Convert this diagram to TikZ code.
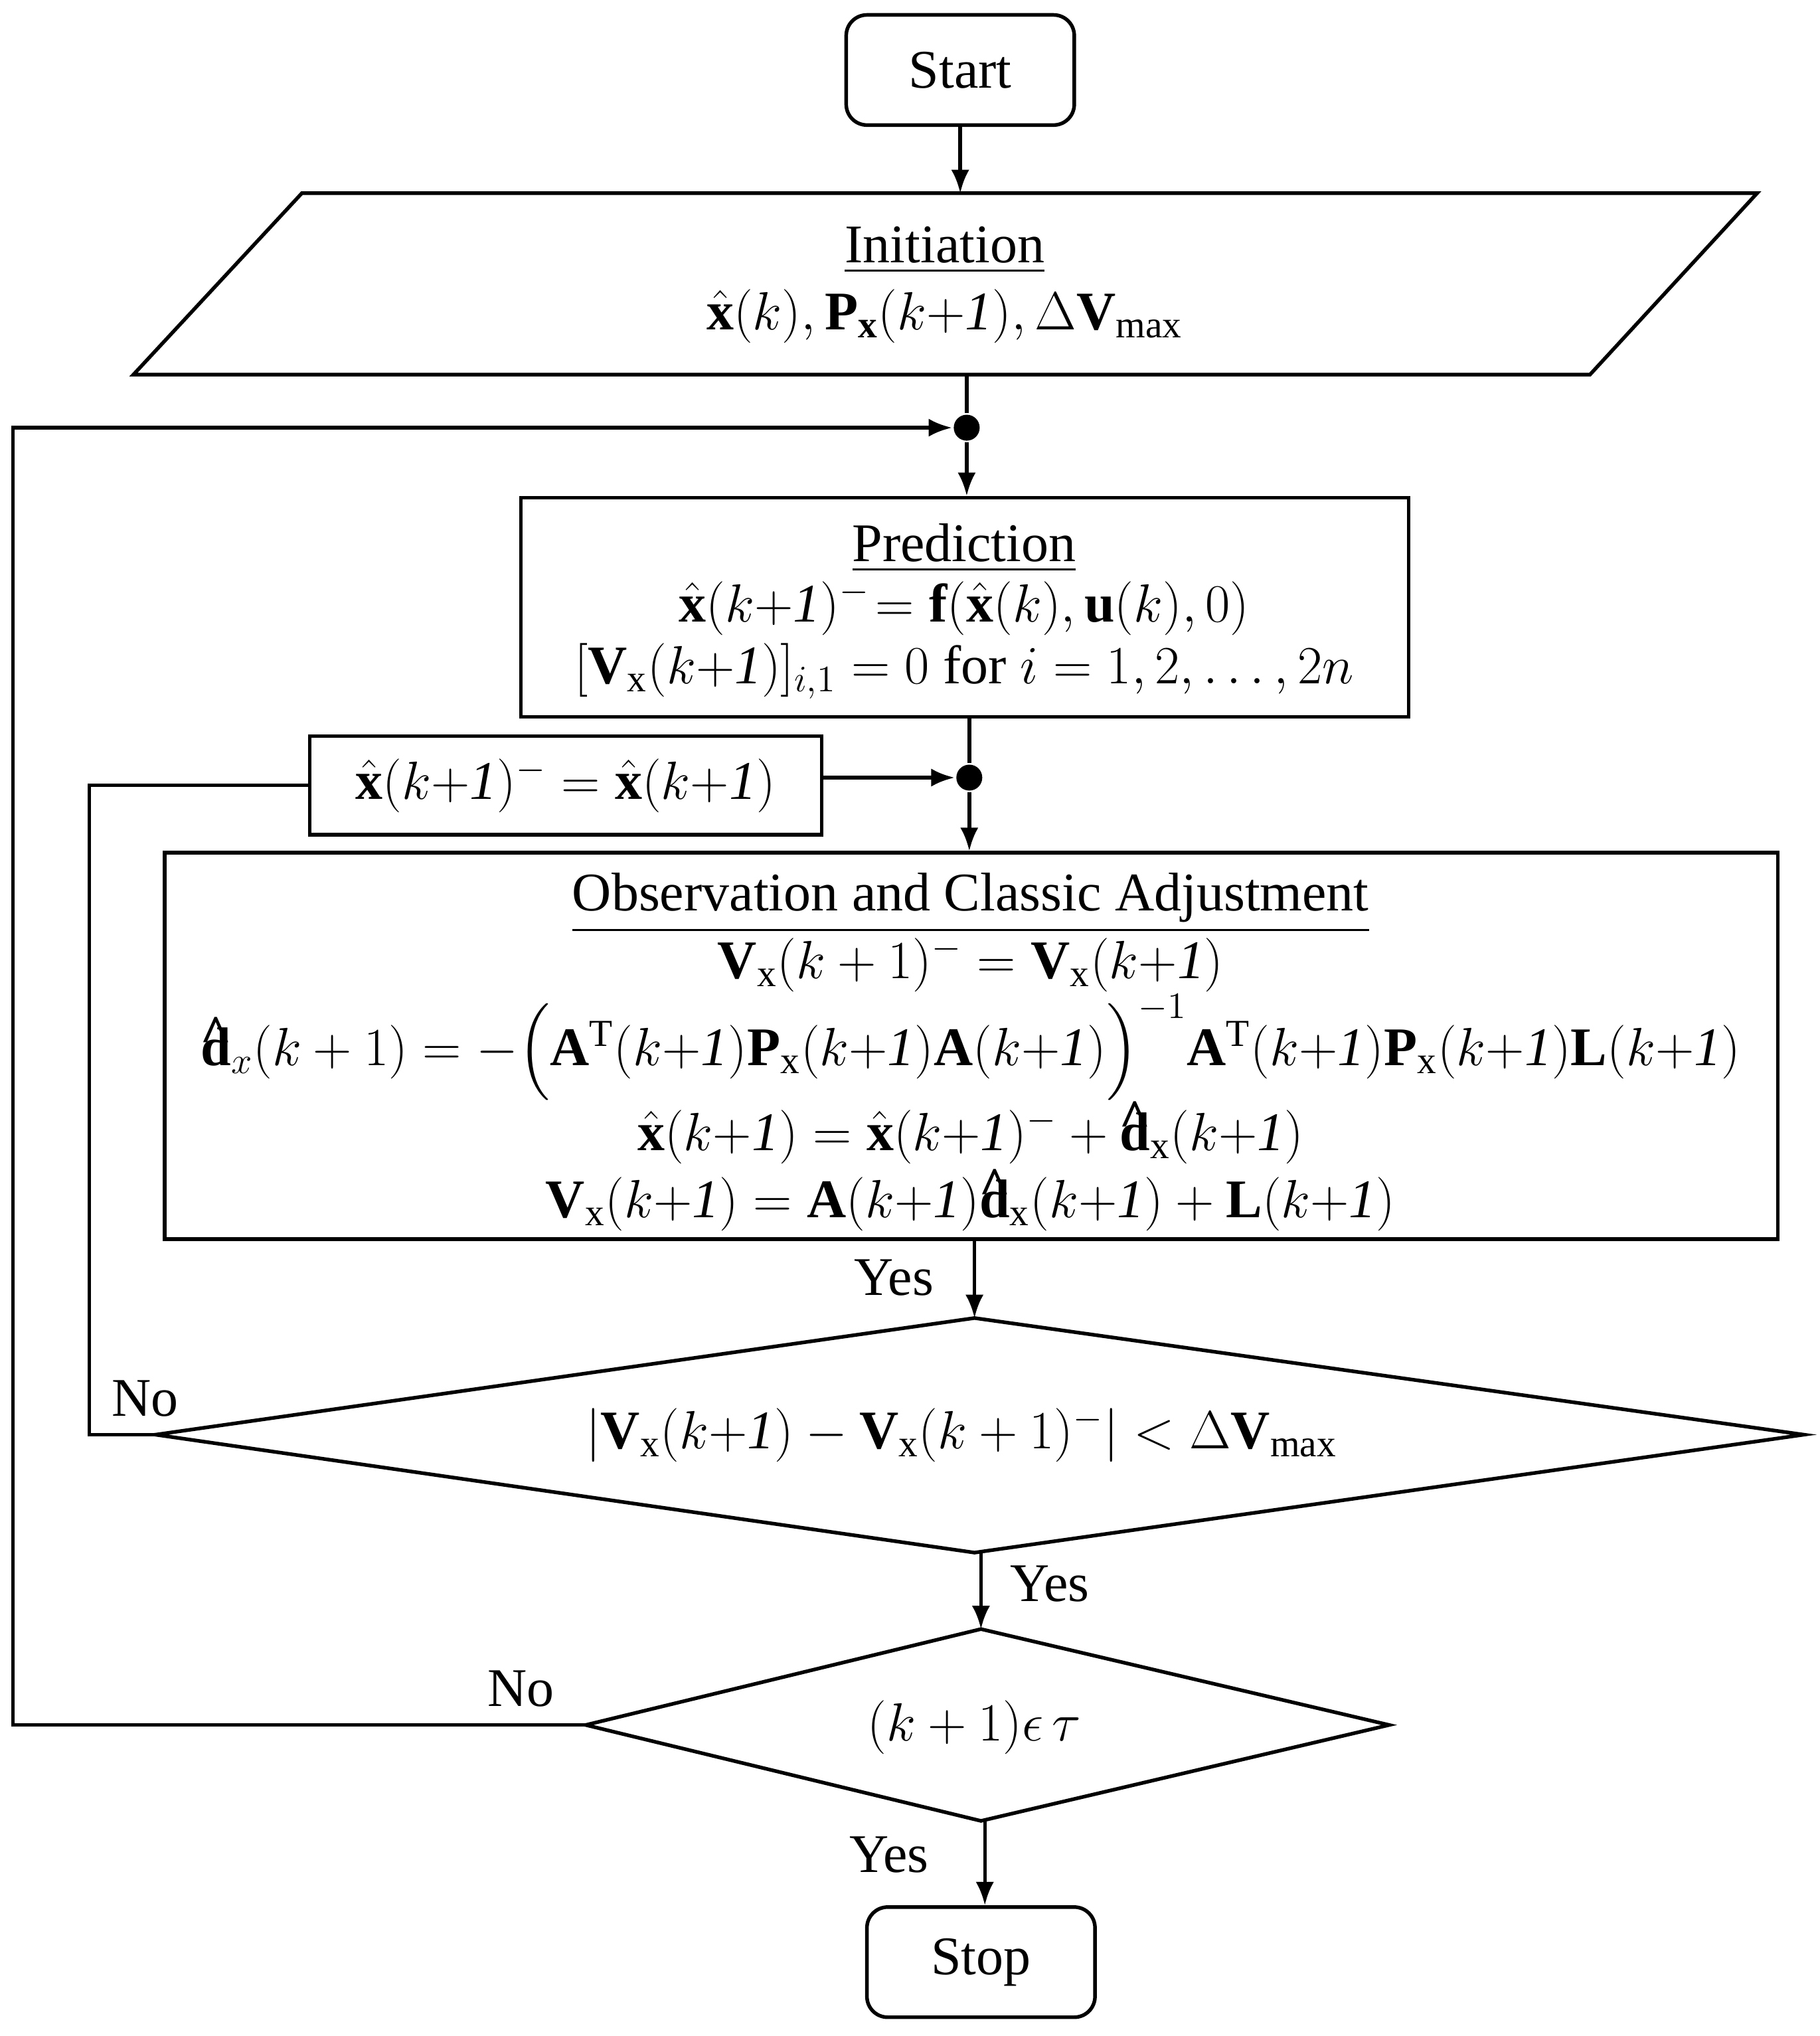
\documentclass[tikz,border=0pt]{standalone}
\usepackage{fontspec}
\setmainfont{Liberation Serif}
\usepackage{amsmath}
\usetikzlibrary{arrows.meta}
\newcommand{\kk}{(k{+}\mathit{1})}
\newcommand{\dhatb}{\mathbf{\hat{d}}}
\begin{document}
\begin{tikzpicture}[x=0.5pt,y=-0.5pt,line width=1.4pt,
  txt/.style={inner sep=0pt,font=\fontsize{21}{25}\selectfont},
  arr/.style={-{Latex[length=9pt,width=7pt]}},
  bx/.style={draw,line width=1.4pt},
  dot/.style={circle,fill,inner sep=0pt,minimum size=10pt}]
\useasboundingbox (0,0) rectangle (1404,1571);
% start
\node[bx,rounded corners=8pt,minimum width=88pt,minimum height=42.5pt,txt] (start) at (741,54) {Start};
% initiation
\draw[bx] (233,149) -- (1356,149) -- (1227,289) -- (103,289) -- cycle;
\coordinate (initT) at (741,149); \coordinate (initB) at (746,289);
\node[txt] (i1) at (729,193) {\underline{Initiation}};
\node[txt] (i2) at (729,244) {$\hat{\mathbf{x}}(k),\mathbf{P}_{\mathbf{x}}\kk,\Delta\mathbf{V}_{\max}$};
\draw[arr] (start) -- (initT);
% dot1
\node[dot] (d1) at (746,330) {};
\draw (initB) -- (d1);
% prediction
\node[bx,minimum width=342.5pt,minimum height=84.5pt] (pred) at (744.5,468.5) {};
\node[txt] at (744,423) {\underline{Prediction}};
\node[txt] at (744,469) {$\hat{\mathbf x}\kk^{-}\!= \mathbf f(\hat{\mathbf x}(k),\mathbf u(k),0)$};
\node[txt] at (744,518) {$[\mathbf V_{\mathrm x}\kk]_{i,1} = 0$ for $i=1,2,\dots,2n$};
\draw[arr] (d1) -- (pred.north -| d1);
% dot2
\node[dot] (d2) at (748,600) {};
\draw (pred.south -| d2) -- (d2);
% small box
\node[bx,minimum width=197.5pt,minimum height=38pt,txt] (sb) at (436.5,606) {$\hat{\mathbf x}\kk^{-} = \hat{\mathbf x}\kk$};
\draw[arr] (sb.east |- d2) -- (d2);
% observation
\node[bx,minimum width=622.5pt,minimum height=149pt] (obs) at (749.5,807) {};
\node[txt] at (749,697) {\underline{Observation and Classic Adjustment}};
\node[txt] at (749,744) {$\mathbf V_{\mathrm x}(k+1)^{-} = \mathbf V_{\mathrm x}\kk$};
\node[txt] at (749,808) {$\dhatb_x(k+1) = -\Big(\mathbf A^{\mathrm T}\kk\mathbf P_{\mathrm x}\kk\mathbf A\kk\Big)^{-1}\mathbf A^{\mathrm T}\kk\mathbf P_{\mathrm x}\kk\mathbf L\kk$};
\node[txt] at (749,874) {$\hat{\mathbf x}\kk = \hat{\mathbf x}\kk^{-} + \dhatb_{\mathrm x}\kk$};
\node[txt] at (749,926) {$\mathbf V_{\mathrm x}\kk = \mathbf A\kk\dhatb_{\mathrm x}\kk + \mathbf L\kk$};
\draw[arr] (d2) -- (obs.north -| d2);
% diamond 1
\draw[bx] (120,1107) -- (752,1017) -- (1392,1107) -- (752,1198) -- cycle;
\coordinate (D1t) at (752,1017); \coordinate (D1b) at (757,1198); \coordinate (D1l) at (120,1107);
\node[txt] (D1) at (742,1107) {$|\mathbf V_{\mathrm x}\kk - \mathbf V_{\mathrm x}(k+1)^{-}| < \Delta\mathbf V_{\max}$};
\draw[arr] (obs.south -| D1t) -- (D1t);
\node[txt] at (690,986) {Yes};
% diamond 2
\draw[bx] (452,1331) -- (757,1257) -- (1072,1331) -- (757,1405) -- cycle;
\coordinate (D2t) at (757,1257); \coordinate (D2b) at (760,1405); \coordinate (D2l) at (452,1331);
\node[txt] (D2) at (752,1333) {$(k+1)\epsilon\,\tau$};
\draw[arr] (D1b) -- (D2t);
\node[txt] at (810,1222) {Yes};
% stop
\node[bx,rounded corners=8pt,minimum width=88pt,minimum height=42.5pt,txt] (stop) at (757,1514) {Stop};
\draw[arr] (D2b) -- (stop.north -| D2b);
\node[txt] at (686,1431) {Yes};
% No loops
\draw (sb.west) -- (69,606) -- (69,1107) -- (D1l);
\node[txt] at (112,1079) {No};
\draw[arr] (D2l) -- (10,1331) -- (10,330) -- (d1);
\node[txt] at (402,1303) {No};
\end{tikzpicture}
\end{document}
